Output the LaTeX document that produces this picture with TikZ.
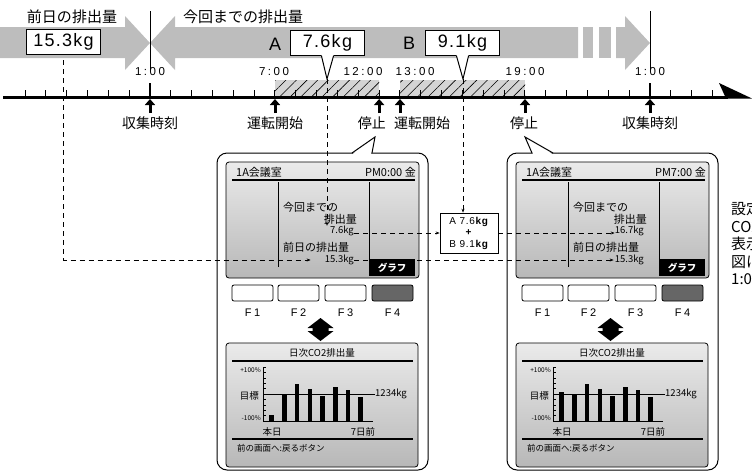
\documentclass[tikz,border=0pt]{standalone}
\usepackage{fontspec}
\setmainfont{Liberation Sans}
\newfontfamily\jp{Noto Sans CJK JP}
\newfontfamily\valfont[LetterSpace=7]{Liberation Sans}
\newfontfamily\hourfont[LetterSpace=22]{Liberation Sans}
\usetikzlibrary{arrows.meta,patterns.meta,positioning}

\begin{document}
\begin{tikzpicture}[
        x=1pt,
        y=-1pt,
        band/.style={fill=black!26},
        head text/.style={font=\jp\fontsize{15}{15}\selectfont, inner sep=0pt},
        value box/.style={draw, line width=1pt, fill=white, minimum width=74pt, minimum height=25pt, inner sep=0pt, font=\valfont\fontsize{18}{18}\selectfont},
        big letter/.style={font=\fontsize{18}{18}\selectfont, inner sep=0pt},
        hour text/.style={font=\hourfont\fontsize{11.5}{12}\selectfont, inner sep=0pt},
        event text/.style={font=\jp\fontsize{14}{14}\selectfont, inner sep=0pt},
        event arrow/.style={line width=3pt, -{Triangle[length=6pt,width=10pt]}},
        run span/.style={preaction={fill=black!17}, pattern={Lines[angle=45,distance=7.5pt,line width=0.6pt]}},
        flow/.style={dash pattern=on 5pt off 4pt, line width=0.7pt, -{Stealth[length=4pt,width=3pt]}},
        panel/.style={draw, line width=1pt, rounded corners=10pt},
        screen/.style={draw, line width=0.8pt, rounded corners=3pt, top color=black!8, bottom color=black!28},
        lcd text/.style={font=\jp\fontsize{11}{11}\selectfont, inner sep=0pt},
        lcd small/.style={font=\jp\fontsize{9.5}{9.5}\selectfont, inner sep=0pt},
        fkey/.style={draw, line width=0.8pt, rounded corners=2pt},
        fkey text/.style={font=\hourfont\fontsize{11}{11}\selectfont, inner sep=0pt},
        chart text/.style={font=\jp\fontsize{9.5}{9.5}\selectfont, inner sep=0pt},
        tiny text/.style={font=\jp\fontsize{6.5}{6.5}\selectfont, inner sep=0pt},
        graph key/.style={fill=black, text=white, minimum width=46pt, minimum height=17pt, inner sep=0pt, font=\jp\bfseries\fontsize{9.5}{9.5}\selectfont},
        sum box/.style={draw, line width=0.7pt, fill=white, align=center, minimum width=58pt, minimum height=40pt, inner sep=1pt, font=\valfont\fontsize{10}{11.5}\selectfont},
        side text/.style={font=\jp\fontsize{15}{17.5}\selectfont, align=left, inner sep=0pt}
    ]
    \useasboundingbox (0,0) rectangle (752,472);

    % gray bands
    \path[band] (0,27) -- (125,27) -- (125,16) -- (150,43) -- (125,70) -- (125,58) -- (0,58) -- cycle;
    \path[band] (150,43) -- (175,16) -- (175,27) -- (578,27) -- (578,58) -- (175,58) -- (175,70) -- cycle;
    \foreach \a/\b in {583/593, 599/611} {
        \path[band] (\a,27) rectangle (\b,58);
    }
    \path[band] (616,27) -- (625,27) -- (625,16) -- (650,43) -- (625,70) -- (625,58) -- (616,58) -- cycle;
    \draw[line width=1pt] (150,11) -- (150,70);
    \draw[line width=1pt] (650,11) -- (650,70);

    \node[head text] (prevtitle) at (72,17) {前日の排出量};
    \node[head text] (curtitle) at (243,17) {今回までの排出量};

    % values with pointers
    \coordinate (tipA) at (327,79);
    \coordinate (tipB) at (463,79);
    \node[value box] (prev) at (63.5,42) {15.3kg};
    \node[value box] (valA) at (327.5,43) {7.6kg};
    \node[value box] (valB) at (462.5,43) {9.1kg};
    \node[big letter] (labA) at (275,44) {A};
    \node[big letter] (labB) at (409,43) {B};
    \foreach \v/\t in {valA/tipA, valB/tipB} {
        \fill[white] ([xshift=-6pt,yshift=1pt]\v.south) -- (\t) -- ([xshift=6pt,yshift=1pt]\v.south) -- cycle;
        \draw[line width=1pt] ([xshift=-6pt]\v.south) -- (\t) -- ([xshift=6pt]\v.south);
    }

    % time axis
    \foreach \h in {1,...,25} {
        \coordinate (t\h) at ({150+20.833*(\h-1)},97);
    }
    \path[run span] ([yshift=17pt]t7) rectangle (t12);
    \path[run span] ([yshift=17pt]t13) rectangle (t19);
    \draw[line width=3pt] (3,97) -- (728,97);
    \fill (719,83) -- (752,98.5) -- (726,98.5) -- cycle;
    \foreach \k in {0,...,33} {
        \draw[line width=1pt] ({25+20.833*\k},90) -- ({25+20.833*\k},97);
    }
    \foreach \h in {1,25} {
        \draw[line width=2.2pt] (t\h) -- ++(0,-14);
    }
    \foreach \n/\x/\t in {hA/150/1:00, hB/274/7:00, hC/363/12:00, hD/415/13:00, hE/525/19:00, hF/650/1:00} {
        \node[hour text] (\n) at (\x,72) {\t};
    }
    \foreach \h in {1,7,12,13,19,25} {
        \draw[event arrow] ([yshift=-16pt]t\h) -- ([yshift=-2pt]t\h);
    }
    \node[event text] (evA) at (150,123) {収集時刻};
    \node[event text] (evB) at (275,123) {運転開始};
    \node[event text, anchor=east] (evC) at (386,123) {停止};
    \node[event text, anchor=west] (evD) at (394,123) {運転開始};
    \node[event text] (evE) at (524,123) {停止};
    \node[event text] (evF) at (650,123) {収集時刻};

    % remote controller panels
    \foreach \i/\dx/\clock/\now/\first in {1/0/PM0:00/7.6kg/415, 2/290/PM7:00/16.7kg/391.7} {
        \begin{scope}[xshift=\dx pt]
            \draw[panel] (217,153) rectangle (428,470);
            \draw[screen] (226,162) rectangle (419,278);
            \node[lcd text, anchor=west] (room\i) at (236,172) {1A会議室};
            \node[lcd text, anchor=east] (clock\i) at (416,172) {\clock\ 金};
            \draw[line width=1.2pt] (232,180) -- (415,180);
            \draw[line width=0.8pt] (278,182) -- (278,267);
            \draw[line width=0.8pt] (369,182) -- (369,259);
            \node[lcd text, anchor=west] (curhead\i) at (283,207) {今回までの};
            \node[lcd text, anchor=east] (curtail\i) at (357,219) {排出量};
            \node[lcd small, anchor=east] (cur\i) at (354,231) {\now};
            \node[lcd text, anchor=west] (prevhead\i) at (283,247) {前日の排出量};
            \node[lcd small, anchor=east] (prev\i) at (354,260) {15.3kg};
            \foreach \b/\bx/\bfill in {1/232/white, 2/278/white, 3/325/white, 4/372/black!60} {
                \draw[fkey, fill=\bfill] (\bx,285) rectangle ++(41,16);
                \node[fkey text] (f\i\b) at (\bx+20.5,313) {F\b};
            }
            \fill (307.5,328) -- (320.5,318) -- (333.5,328) -- (328.5,328) -- (328.5,331) -- (333.5,331) -- (320.5,341) -- (307.5,331) -- (312.5,331) -- (312.5,328) -- cycle;
            % daily chart screen
            \draw[screen] (226,343) rectangle (418,467);
            \node[chart text] (charttitle\i) at (322,353) {日次CO2排出量};
            \draw[line width=1.2pt] (232,361) -- (413,361);
            \node[chart text, anchor=west] (goal\i) at (375,394) {1234kg};
            \draw[line width=0.6pt] (263,394) -- (goal\i.west);
            \foreach \bxx/\top in {271.7/\first, 284.4/394, 297.1/384.3, 309.8/389, 322.5/396, 335.2/387.3, 347.9/390, 360.6/397.3} {
                \fill (\bxx-2.3,\top) rectangle (\bxx+2.3,421);
            }
            \draw[line width=1pt] (263,367) -- (263,421) -- (373,421);
            \foreach \k in {0,...,10} {
                \draw[line width=0.5pt] (263,367+5.4*\k) -- ++(2.5,0);
            }
            \node[tiny text, anchor=east] (hi\i) at (261,370) {+100\%};
            \node[chart text, anchor=east] (goalname\i) at (259,396) {目標};
            \node[tiny text, anchor=east] (lo\i) at (261,418) {-100\%};
            \node[chart text] (today\i) at (272,432) {本日};
            \node[chart text] (week\i) at (363,432) {7日前};
            \draw[line width=1.2pt] (232,439) -- (413,439);
            \node[lcd small, font=\jp\fontsize{8.5}{8.5}\selectfont, anchor=west] (back\i) at (237,448) {前の画面へ:戻るボタン};
        \end{scope}
    }
    % panel pointers
    \fill[white] (353,153.8) -- (375,137) -- (371,153.8) -- cycle;
    \draw[line width=1pt] (352,153) -- (375,137) -- (372,153);
    \fill[white] (533,153.8) -- (525,137) -- (552,153.8) -- cycle;
    \draw[line width=1pt] (532,153) -- (525,137) -- (553,153);

    % sum of A and B
    \node[sum box] (sum) at (469,233) {A 7.6\textbf{kg}\\\textbf{+}\\B 9.1\textbf{kg}};

    % dashed flows
    \draw[flow] ([yshift=-5pt]prev.south) |- ([xshift=-14pt]prev1.west);
    \draw[flow] (prev1.east) -- ([xshift=-1pt]prev2.west);
    \draw[flow] (tipA) -- (tipA |- cur1.north);
    \draw[flow] (cur1.east |- sum.west) -- (sum.west);
    \draw[flow] (tipB) -- (tipB |- sum.north);
    \draw[flow] (sum.east) -- (sum.east -| cur2.west);

    \foreach \i/\dx in {1/0, 2/290} {
        \node[graph key] (graph\i) at (392+\dx,267.5) {グラフ};
    }

    % note on the right, cut by the edge as in the source
    \begin{scope}
        \clip (0,0) rectangle (752,472);
        \node[side text, anchor=north west] (note) at (731,202) {設定\\CO2\\表示\\図に\\1:00};
    \end{scope}
\end{tikzpicture}
\end{document}
